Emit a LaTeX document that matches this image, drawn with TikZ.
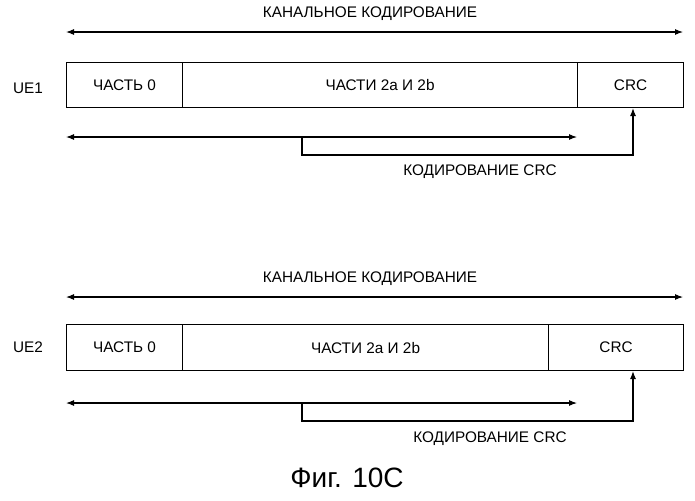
\documentclass[tikz,border=0pt]{standalone}
\usepackage{fontspec}
\setmainfont{Liberation Sans}
\usetikzlibrary{arrows.meta}
\begin{document}
\begin{tikzpicture}[x=0.75pt,y=-0.75pt,
  lbl/.style={font=\fontsize{11.5}{13}\selectfont, inner sep=0},
  seg/.style={draw, line width=0.8pt, inner sep=0, anchor=north west, font=\fontsize{11.5}{13}\selectfont},
  arr/.style={line width=0.8pt, {Latex[length=6pt,width=4.5pt]}-{Latex[length=6pt,width=4.5pt]}},
  one/.style={line width=0.8pt, -{Latex[length=6pt,width=4.5pt]}}]
\useasboundingbox (0,0) rectangle (695,500);
% UE1
\node[lbl] (t1) at (370,14) {КАНАЛЬНОЕ КОДИРОВАНИЕ};
\coordinate (a1l) at (66,32); \coordinate (a1r) at (683,32);
\draw[arr] (a1l) -- (a1r);
\node[lbl] (u1) at (28,88) {UE1};
\node[seg, minimum width=116*0.75pt, minimum height=45*0.75pt] (p10) at (66,62) {ЧАСТЬ 0};
\node[seg, minimum width=395*0.75pt, minimum height=45*0.75pt] (p12) at (182,62) {ЧАСТИ 2a И 2b};
\node[seg, minimum width=106*0.75pt, minimum height=45*0.75pt] (c1) at (577,62) {CRC};
\coordinate (b1l) at (66,137); \coordinate (b1r) at (577,137);
\draw[arr] (b1l) -- (b1r);
\coordinate (k1) at (302,137);
\draw[one] (k1) -- (302,155) -- (633,155) -- (c1.south -| 633,0);
\node[lbl] (e1) at (480,172) {КОДИРОВАНИЕ CRC};
% UE2
\node[lbl] (t2) at (370,279) {КАНАЛЬНОЕ КОДИРОВАНИЕ};
\coordinate (a2l) at (66,297); \coordinate (a2r) at (683,297);
\draw[arr] (a2l) -- (a2r);
\node[lbl] (u2) at (28,347) {UE2};
\node[seg, minimum width=116*0.75pt, minimum height=46*0.75pt] (p20) at (66,324) {ЧАСТЬ 0};
\node[seg, minimum width=366*0.75pt, minimum height=46*0.75pt] (p22) at (182,324) {ЧАСТИ 2a И 2b};
\node[seg, minimum width=135*0.75pt, minimum height=46*0.75pt] (c2) at (548,324) {CRC};
\coordinate (b2l) at (66,403); \coordinate (b2r) at (577,403);
\draw[arr] (b2l) -- (b2r);
\coordinate (k2) at (302,403);
\draw[one] (k2) -- (302,421) -- (633,421) -- (c2.south -| 633,0);
\node[lbl] (e2) at (490,439) {КОДИРОВАНИЕ CRC};
\node[font=\fontsize{21}{24}\selectfont, inner sep=0] (cap) at (347,478) {Фиг. 10C};
\end{tikzpicture}
\end{document}
